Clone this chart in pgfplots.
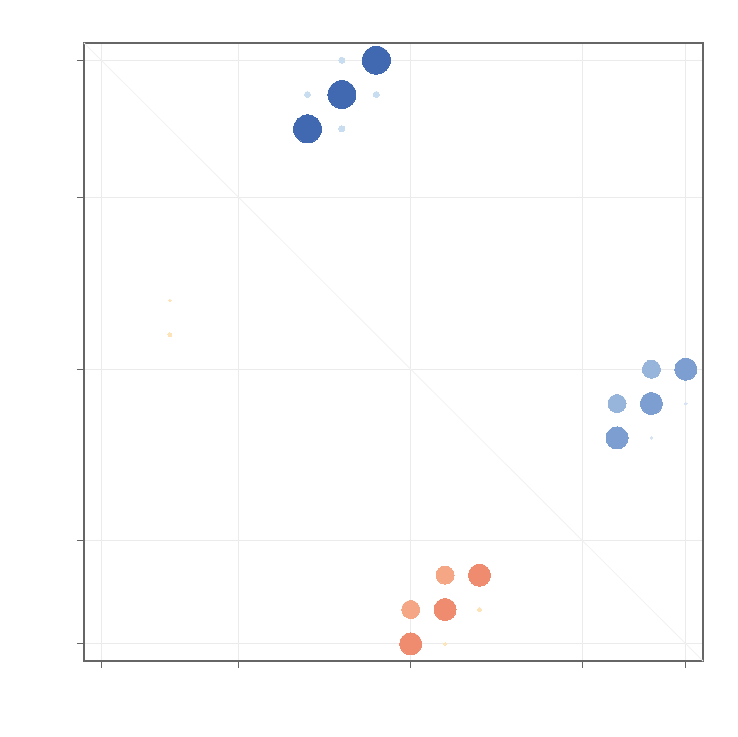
\documentclass[border=0pt]{standalone}
\usepackage{pgfplots}
\pgfplotsset{compat=1.18}
\definecolor{dblue}{HTML}{4169B2}
\definecolor{lblue}{HTML}{C9DDF1}
\definecolor{mblue}{HTML}{7C9ED0}
\definecolor{m2blue}{HTML}{97B4DB}
\definecolor{pblue}{HTML}{D6E4F3}
\definecolor{orng}{HTML}{EF8B6F}
\definecolor{lorng}{HTML}{F5A685}
\definecolor{pyel}{HTML}{FDE3B8}
\definecolor{gridc}{HTML}{EBEBEB}
\definecolor{framec}{HTML}{666666}
\begin{document}
\begin{tikzpicture}
\begin{axis}[
  scale only axis,
  width=309.5pt, height=309pt,
  xmin=-0.5, xmax=17.5, ymin=-0.5, ymax=17.5,
  y dir=reverse,
  xtick={0,4,9,14,17}, ytick={0,4,9,14,17},
  xticklabels={}, yticklabels={},
  tick align=outside, tick pos=left,
  major tick length=3.5pt,
  tick style={color=framec, line width=0.6pt},
  axis line style={color=framec, line width=0.6pt},
  grid=major,
  major grid style={color=gridc, line width=0.5pt},
  clip=false,
  every axis plot/.append style={line width=0pt},
]
\addplot[color=gridc!70, line width=0.4pt, no marks] coordinates {(-0.5,-0.5) (17.5,17.5)};
\addplot[only marks, mark=*, mark size=7pt, color=dblue] coordinates {(8,0) (7,1) (6,2)};
\addplot[only marks, mark=*, mark size=1.5pt, color=lblue] coordinates {(7,0) (6,1) (8,1) (7,2)};
\addplot[only marks, mark=*, mark size=5.5pt, color=mblue] coordinates {(17,9) (16,10) (15,11)};
\addplot[only marks, mark=*, mark size=4.5pt, color=m2blue] coordinates {(16,9) (15,10)};
\addplot[only marks, mark=*, mark size=0.7pt, color=pblue] coordinates {(17,10) (16,11)};
\addplot[only marks, mark=*, mark size=5.5pt, color=orng] coordinates {(11,15) (10,16) (9,17)};
\addplot[only marks, mark=*, mark size=4.5pt, color=lorng] coordinates {(10,15) (9,16)};
\addplot[only marks, mark=*, mark size=1pt, color=pyel] coordinates {(11,16) (2,8)};
\addplot[only marks, mark=*, mark size=0.7pt, color=pyel] coordinates {(10,17) (2,7)};
\end{axis}
\pgfresetboundingbox
\useasboundingbox ([xshift=-42pt,yshift=-38pt]current axis.south west) rectangle ([xshift=17pt,yshift=21.5pt]current axis.north east);
\end{tikzpicture}
\end{document}
